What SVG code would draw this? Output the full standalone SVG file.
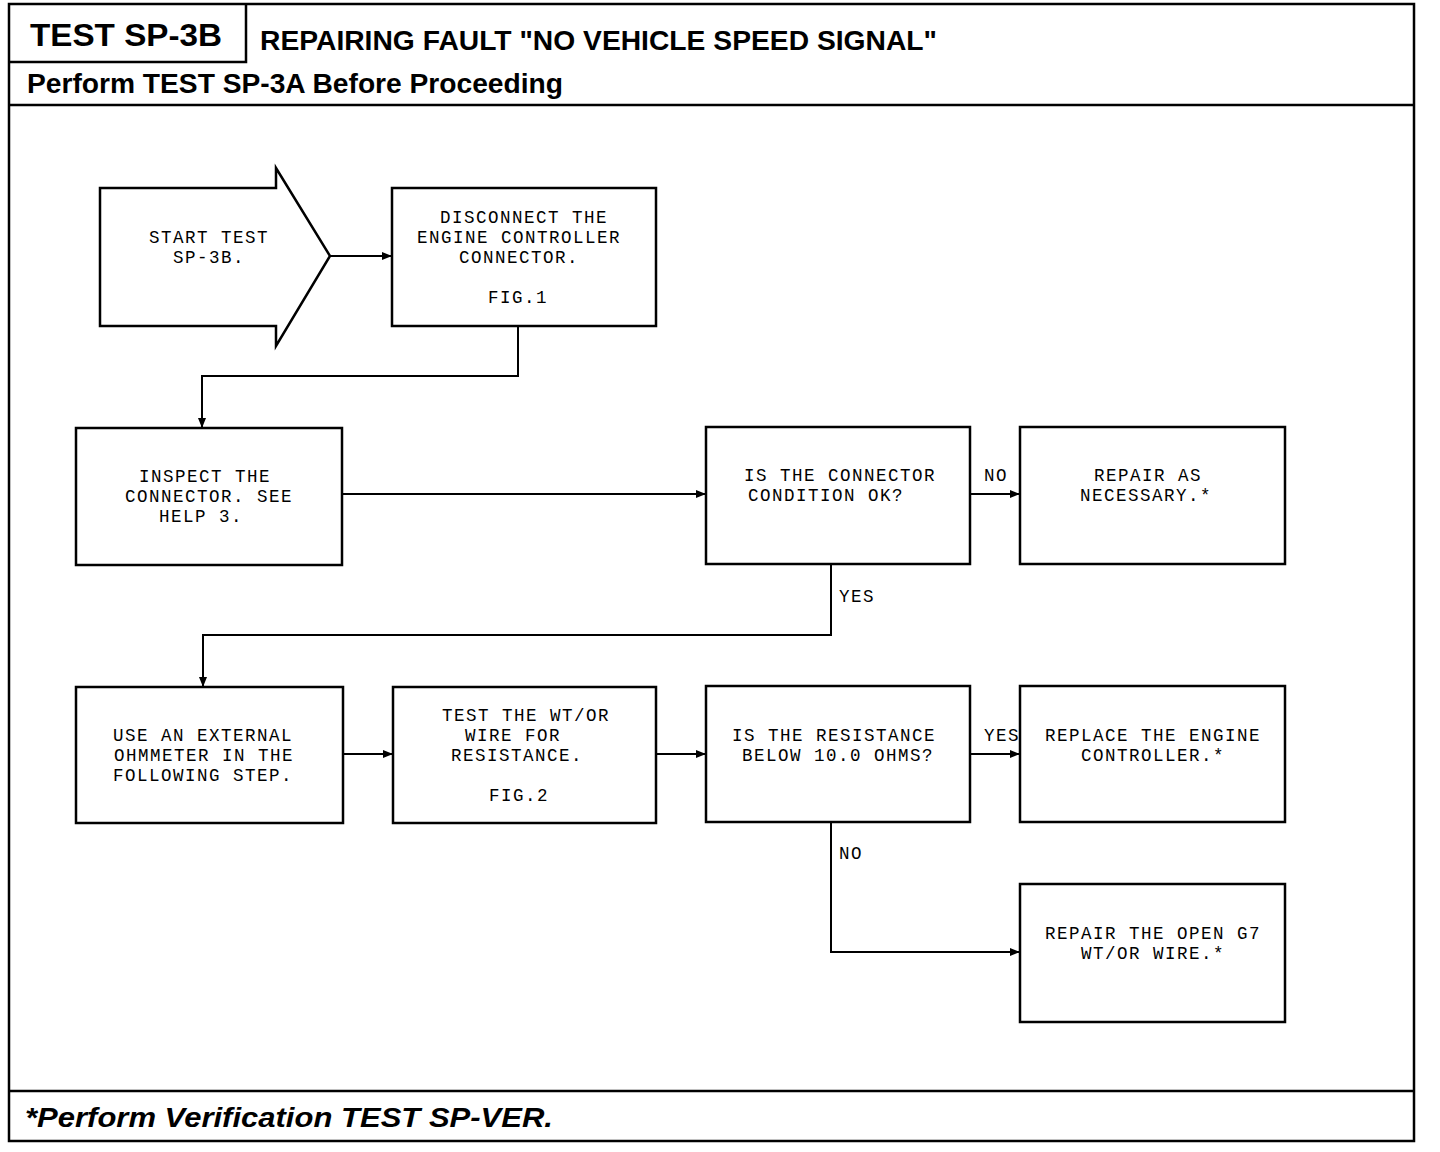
<svg xmlns="http://www.w3.org/2000/svg" width="1440" height="1152" viewBox="0 0 1440 1152">
<defs>
<style>
.frame{fill:none;stroke:#000;stroke-width:2.5}
.box{fill:#fff;stroke:#000;stroke-width:2.5}
.con{fill:none;stroke:#000;stroke-width:2}
.t{font-family:"Liberation Mono","DejaVu Sans Mono",monospace;font-size:17.5px;letter-spacing:1.5px;fill:#000;text-anchor:middle}
.lbl{font-family:"Liberation Mono","DejaVu Sans Mono",monospace;font-size:17.5px;letter-spacing:1.5px;fill:#000}
.h{font-family:"Liberation Sans",Arial,sans-serif;font-weight:bold;fill:#000}
</style>
<marker id="ah" viewBox="0 0 10 8" refX="10" refY="4" markerWidth="10" markerHeight="8" markerUnits="userSpaceOnUse" orient="auto">
<path d="M0,0 L10,4 L0,8 Z" fill="#000"/>
</marker>
</defs>
<rect width="1440" height="1152" fill="#fff"/>
<g id="frame">
<rect class="frame" x="9" y="4" width="1405" height="1137"/>
<path class="frame" d="M9,62 H246 V4"/>
<line class="frame" x1="9" y1="105" x2="1414" y2="105"/>
<line class="frame" x1="9" y1="1091" x2="1414" y2="1091"/>
<text class="h" x="30" y="46" font-size="32" textLength="192" lengthAdjust="spacingAndGlyphs">TEST SP-3B</text>
<text class="h" x="260" y="50" font-size="27" textLength="677" lengthAdjust="spacingAndGlyphs">REPAIRING FAULT "NO VEHICLE SPEED SIGNAL"</text>
<text class="h" x="27" y="93" font-size="27" textLength="536" lengthAdjust="spacingAndGlyphs">Perform TEST SP-3A Before Proceeding</text>
<text class="h" x="25" y="1127" font-size="28" font-style="italic" textLength="528" lengthAdjust="spacingAndGlyphs">*Perform Verification TEST SP-VER.</text>
</g>
<g id="connectors">
<line class="con" x1="330" y1="256" x2="392" y2="256" marker-end="url(#ah)"/>
<path class="con" d="M518,326 V376 H202 V428" marker-end="url(#ah)"/>
<line class="con" x1="342" y1="494" x2="706" y2="494" marker-end="url(#ah)"/>
<line class="con" x1="970" y1="494" x2="1020" y2="494" marker-end="url(#ah)"/>
<text class="lbl" x="984" y="481">NO</text>
<path class="con" d="M831,564 V635 H203 V687" marker-end="url(#ah)"/>
<text class="lbl" x="839" y="602">YES</text>
<line class="con" x1="343" y1="754" x2="393" y2="754" marker-end="url(#ah)"/>
<line class="con" x1="656" y1="754" x2="706" y2="754" marker-end="url(#ah)"/>
<line class="con" x1="970" y1="754" x2="1020" y2="754" marker-end="url(#ah)"/>
<text class="lbl" x="984" y="741">YES</text>
<path class="con" d="M831,822 V952 H1020" marker-end="url(#ah)"/>
<text class="lbl" x="839" y="859">NO</text>
</g>
<g id="start">
<path class="box" d="M100,188 H276 V168 L330,256 L276,346 V326 H100 Z"/>
<text class="t" x="209" y="243">START TEST</text>
<text class="t" x="209" y="263">SP-3B.</text>
</g>
<g id="disconnect">
<rect class="box" x="392" y="188" width="264" height="138"/>
<text class="t" x="524" y="223">DISCONNECT THE</text>
<text class="t" x="519" y="243">ENGINE CONTROLLER</text>
<text class="t" x="519" y="263">CONNECTOR.</text>
<text class="t" x="518" y="303">FIG.1</text>
</g>
<g id="inspect">
<rect class="box" x="76" y="428" width="266" height="137"/>
<text class="t" x="205" y="482">INSPECT THE</text>
<text class="t" x="209" y="502">CONNECTOR. SEE</text>
<text class="t" x="201" y="522">HELP 3.</text>
</g>
<g id="decision1">
<rect class="box" x="706" y="427" width="264" height="137"/>
<text class="t" x="840" y="481">IS THE CONNECTOR</text>
<text class="t" x="826" y="501">CONDITION OK?</text>
</g>
<g id="repair1">
<rect class="box" x="1020" y="427" width="265" height="137"/>
<text class="t" x="1148" y="481">REPAIR AS</text>
<text class="t" x="1146" y="501">NECESSARY.*</text>
</g>
<g id="ohmmeter">
<rect class="box" x="76" y="687" width="267" height="136"/>
<text class="t" x="203" y="741">USE AN EXTERNAL</text>
<text class="t" x="204" y="761">OHMMETER IN THE</text>
<text class="t" x="203" y="781">FOLLOWING STEP.</text>
</g>
<g id="testwire">
<rect class="box" x="393" y="687" width="263" height="136"/>
<text class="t" x="526" y="721">TEST THE WT/OR</text>
<text class="t" x="513" y="741">WIRE FOR</text>
<text class="t" x="517" y="761">RESISTANCE.</text>
<text class="t" x="519" y="801">FIG.2</text>
</g>
<g id="decision2">
<rect class="box" x="706" y="686" width="264" height="136"/>
<text class="t" x="834" y="741">IS THE RESISTANCE</text>
<text class="t" x="838" y="761">BELOW 10.0 OHMS?</text>
</g>
<g id="replace">
<rect class="box" x="1020" y="686" width="265" height="136"/>
<text class="t" x="1153" y="741">REPLACE THE ENGINE</text>
<text class="t" x="1153" y="761">CONTROLLER.*</text>
</g>
<g id="repair2">
<rect class="box" x="1020" y="884" width="265" height="138"/>
<text class="t" x="1153" y="939">REPAIR THE OPEN G7</text>
<text class="t" x="1153" y="959">WT/OR WIRE.*</text>
</g>
</svg>
